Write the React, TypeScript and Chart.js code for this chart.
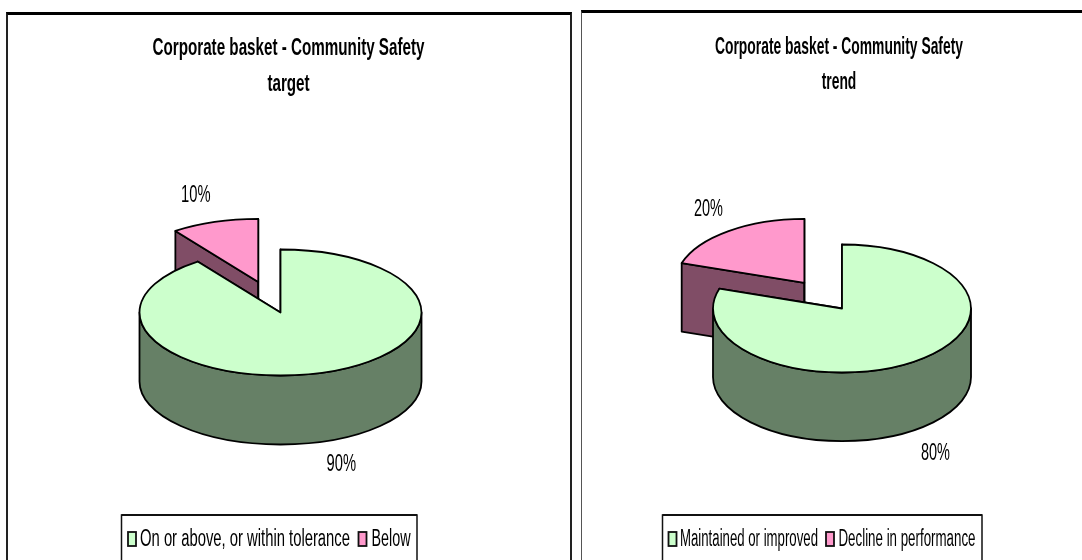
import React, { useEffect, useRef } from "react";
import { Chart, registerables } from "chart.js";

Chart.register(...registerables);

const targetCategories = ["On or above, or within tolerance", "Below"];
const targetValues = [90, 10];
const targetTitle = ["Corporate basket - Community Safety", "target"];

const trendCategories = ["Maintained or improved", "Decline in performance"];
const trendValues = [80, 20];
const trendTitle = ["Corporate basket - Community Safety", "trend"];

const topColors = ["#CCFFCC", "#FF99CC"];
const wallColors = ["#668066", "#804D66"];

const FONT = '"Liberation Sans", Arial, sans-serif';

type Look = {
  tilt: number;
  depth: number;
  titleX: number;
  titleW: number;
  titleY: number[];
  labels: { x: number; y: number; w: number }[];
  legendBox: { l: number; r: number; t: number };
  legendItems: { sx: number; tx: number; tw: number }[];
};

function makePlugin(look: Look, title: string[], categories: string[]) {
  return {
    id: "pie3d",
    beforeDatasetsDraw(chart: any) {
      const ctx: CanvasRenderingContext2D = chart.ctx;
      const arcs = chart.getDatasetMeta(0).data as any[];
      const k = look.tilt;
      const d = look.depth;
      ctx.save();
      ctx.lineWidth = 1.8;
      ctx.lineJoin = "round";
      ctx.strokeStyle = "#000";
      for (let i = arcs.length - 1; i >= 0; i--) {
        const a = arcs[i];
        const { x, y, startAngle: s, endAngle: e, outerRadius: r } = a;
        const off = (a.options.offset || 0) / 4;
        const mid = (s + e) / 2;
        const cx = x + Math.cos(mid) * off;
        const cy = y + Math.sin(mid) * off * k;
        const pt = (t: number): [number, number] => [cx + r * Math.cos(t), cy + r * k * Math.sin(t)];
        ctx.fillStyle = wallColors[i];
        for (const t of [s, e]) {
          const p = pt(t);
          ctx.beginPath();
          ctx.moveTo(cx, cy);
          ctx.lineTo(p[0], p[1]);
          ctx.lineTo(p[0], p[1] + d);
          ctx.lineTo(cx, cy + d);
          ctx.closePath();
          ctx.fill();
          ctx.stroke();
        }
        for (let n = -1; n <= 1; n++) {
          const lo = Math.max(s, 2 * Math.PI * n);
          const hi = Math.min(e, Math.PI + 2 * Math.PI * n);
          if (hi <= lo) continue;
          ctx.beginPath();
          ctx.ellipse(cx, cy, r, r * k, 0, lo, hi);
          ctx.ellipse(cx, cy + d, r, r * k, 0, hi, lo, true);
          ctx.closePath();
          ctx.fill();
          ctx.stroke();
        }
        ctx.fillStyle = topColors[i];
        ctx.beginPath();
        ctx.moveTo(cx, cy);
        ctx.ellipse(cx, cy, r, r * k, 0, s, e);
        ctx.closePath();
        ctx.fill();
        ctx.stroke();
      }
      ctx.restore();
      return false;
    },
    afterDraw(chart: any) {
      const ctx: CanvasRenderingContext2D = chart.ctx;
      const values = chart.data.datasets[0].data as number[];
      ctx.save();
      ctx.fillStyle = "#000";
      ctx.textBaseline = "middle";
      ctx.textAlign = "center";
      ctx.font = `bold 24px ${FONT}`;
      title.forEach((line, i) => {
        const w = ctx.measureText(line).width;
        const scaled = i === 0 ? look.titleW : (w * look.titleW) / ctx.measureText(title[0]).width;
        ctx.fillText(line, look.titleX, look.titleY[i], scaled);
      });
      ctx.textAlign = "left";
      ctx.font = `23px ${FONT}`;
      values.forEach((v, i) => {
        const l = look.labels[i];
        ctx.fillText(`${v}%`, l.x, l.y, l.w);
      });
      const b = look.legendBox;
      ctx.strokeStyle = "#111";
      ctx.lineWidth = 1.5;
      ctx.beginPath();
      ctx.moveTo(b.l, 570);
      ctx.lineTo(b.l, b.t);
      ctx.lineTo(b.r, b.t);
      ctx.lineTo(b.r, 570);
      ctx.stroke();
      ctx.lineWidth = 2;
      ctx.beginPath();
      ctx.moveTo(b.l, b.t);
      ctx.lineTo(b.r, b.t);
      ctx.stroke();
      categories.forEach((c, i) => {
        const it = look.legendItems[i];
        ctx.fillStyle = topColors[i];
        ctx.fillRect(it.sx, 532, 8, 14);
        ctx.strokeStyle = "#111";
        ctx.lineWidth = 1.8;
        ctx.strokeRect(it.sx, 532, 8, 14);
        ctx.fillStyle = "#000";
        ctx.font = `23px ${FONT}`;
        ctx.fillText(c, it.tx, 540, it.tw);
      });
      ctx.restore();
    },
  };
}

function Pie(props: {
  left: number;
  width: number;
  padding: { left: number; right: number; top: number; bottom: number };
  radius: number;
  offset: number;
  categories: string[];
  values: number[];
  title: string[];
  look: Look;
}) {
  const ref = useRef<HTMLCanvasElement | null>(null);
  useEffect(() => {
    if (!ref.current) return;
    const chart = new Chart(ref.current, {
      type: "pie",
      data: {
        labels: props.categories,
        datasets: [
          {
            data: props.values,
            backgroundColor: topColors,
            borderColor: "#000",
            borderWidth: 0,
            offset: [0, props.offset],
          },
        ],
      },
      options: {
        responsive: false,
        animation: false,
        events: [],
        radius: props.radius,
        layout: { padding: props.padding },
        plugins: { legend: { display: false }, title: { display: false }, tooltip: { enabled: false } },
      },
      plugins: [makePlugin(props.look, props.title, props.categories)],
    } as any);
    return () => chart.destroy();
  }, []);
  return (
    <canvas
      ref={ref}
      width={props.width}
      height={560}
      style={{ position: "absolute", left: props.left, top: 0, display: "block", width: props.width, height: 560 }}
    />
  );
}

const targetLook: Look = {
  tilt: 63 / 141,
  depth: 69,
  titleX: 288.5,
  titleW: 272,
  titleY: [48, 84],
  labels: [
    { x: 326.5, y: 465, w: 29.5 },
    { x: 181, y: 196, w: 29.5 },
  ],
  legendBox: { l: 121.5, r: 417, t: 515 },
  legendItems: [
    { sx: 128, tx: 140, tw: 210 },
    { sx: 358.5, tx: 371.5, tw: 39 },
  ],
};

const trendLook: Look = {
  tilt: 64 / 129,
  depth: 68.6,
  titleX: 839 - 575,
  titleW: 248,
  titleY: [47.5, 82],
  labels: [
    { x: 921 - 575, y: 454, w: 29 },
    { x: 694 - 575, y: 210, w: 29 },
  ],
  legendBox: { l: 662.5 - 575, r: 982 - 575, t: 515 },
  legendItems: [
    { sx: 668.5 - 575, tx: 680 - 575, tw: 138 },
    { sx: 826 - 575, tx: 838.5 - 575, tw: 137 },
  ],
};

export default function App() {
  return (
    <div style={{ position: "fixed", left: 0, top: 0, width: 1082, height: 560, overflow: "hidden", background: "#fff" }}>
      <div
        style={{
          position: "absolute",
          left: 6,
          top: 12,
          width: 562,
          height: 600,
          borderTop: "3px solid #000",
          borderLeft: "2px solid #222",
          borderRight: "2px solid #222",
        }}
      />
      <div
        style={{
          position: "absolute",
          left: 581,
          top: 10,
          width: 520,
          height: 600,
          borderTop: "3px solid #000",
          borderLeft: "1px solid #555",
        }}
      />
      <Pie
        left={0}
        width={575}
        padding={{ left: 0, right: 14, top: 65, bottom: 0 }}
        radius={141}
        offset={288}
        categories={targetCategories}
        values={targetValues}
        title={targetTitle}
        look={targetLook}
      />
      <Pie
        left={575}
        width={507}
        padding={{ left: 27, right: 0, top: 57, bottom: 0 }}
        radius={129}
        offset={256}
        categories={trendCategories}
        values={trendValues}
        title={trendTitle}
        look={trendLook}
      />
    </div>
  );
}
